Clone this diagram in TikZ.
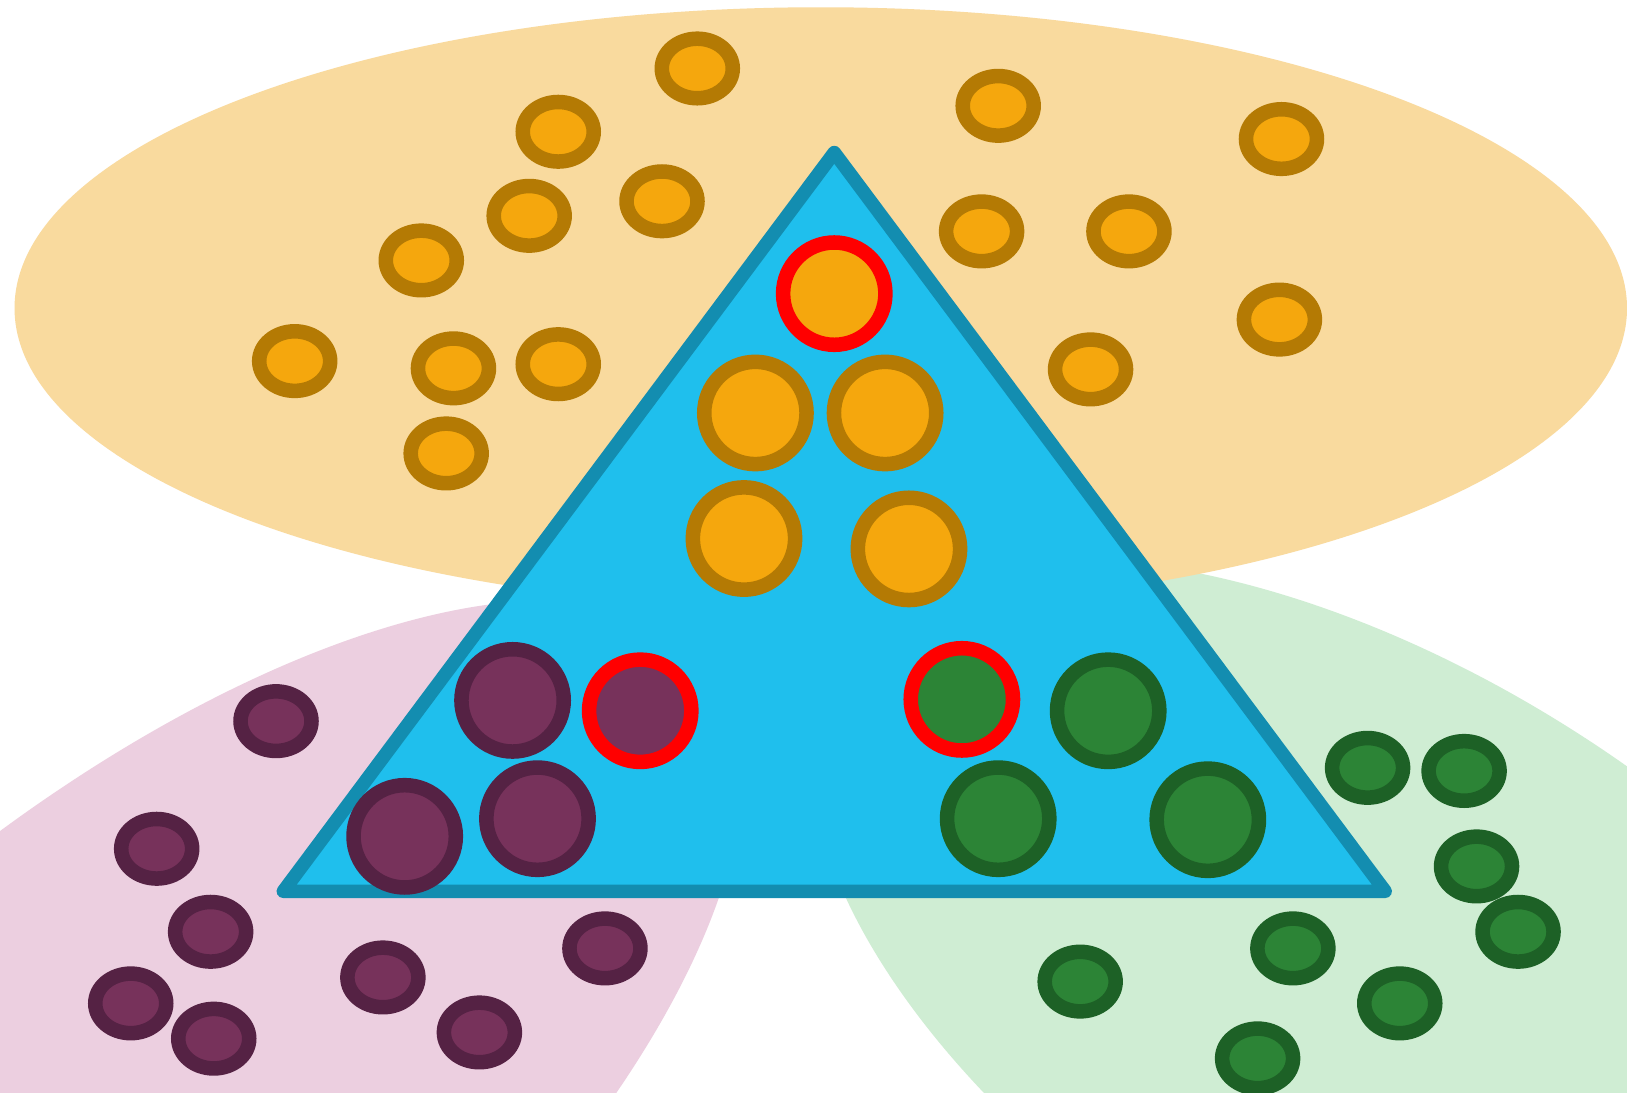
\documentclass[tikz,border=0pt]{standalone}
\usetikzlibrary{shapes.geometric}
\definecolor{obg}{HTML}{F9DA9E}
\definecolor{pbg}{HTML}{ECCFE0}
\definecolor{gbg}{HTML}{CFEDD3}
\definecolor{trifill}{HTML}{1FBFED}
\definecolor{tristroke}{HTML}{138DB0}
\definecolor{ofill}{HTML}{F5A70D}
\definecolor{ostroke}{HTML}{B47A04}
\definecolor{pfill}{HTML}{77325B}
\definecolor{pstroke}{HTML}{552244}
\definecolor{gfill}{HTML}{2C8436}
\definecolor{gstroke}{HTML}{1D6126}
\definecolor{hl}{HTML}{FF0000}
\tikzset{
  blob/.style={line width=14pt},
  oblob/.style={blob, draw=ostroke, fill=ofill},
  pblob/.style={blob, draw=pstroke, fill=pfill},
  gblob/.style={blob, draw=gstroke, fill=gfill},
  hlblob/.style={draw=hl},
  trianglebox/.style={draw=tristroke, fill=trifill, line width=13pt, line join=round}
}
\newcommand{\smallell}[2]{ellipse [x radius=34.2pt, y radius=28.7pt]}
\begin{document}
\begin{tikzpicture}[x=1pt,y=1pt]
\useasboundingbox (0,0) rectangle (1568,1053);
\clip (0,0) rectangle (1568,1053);
\fill[white] (0,0) rectangle (1568,1053);
% background regions
\fill[pbg] (115,-58) ellipse [x radius=738pt, y radius=315pt, rotate=40];
\fill[gbg] (1341,86) ellipse [x radius=630pt, y radius=316pt, rotate=-32];
\fill[obg] (791,756) ellipse [x radius=777pt, y radius=290pt];
% small orange
\foreach \p in {(672,987),(538,926),(638,859),(510,845),(406,802),(284,705),(437,698),(538,702),(430,616),(962,951),(1235,919),(946,830),(1088,830),(1233,745),(1051,697)}
  \draw[oblob] \p ellipse [x radius=34.2pt, y radius=28.7pt];
% small purple
\foreach \p in {(266,358),(151,235),(203,155),(126,86),(206,52),(369,111),(462,58),(583,139)}
  \draw[pblob] \p ellipse [x radius=34.2pt, y radius=28.7pt];
% small green
\foreach \p in {(1318,313),(1411,310),(1423,218),(1463,155),(1246,139),(1041,107),(1349,86),(1212,33)}
  \draw[gblob] \p ellipse [x radius=34.2pt, y radius=28.7pt];
% triangle
\coordinate (apex) at (804,906);
\coordinate (bl) at (273,194);
\coordinate (br) at (1335,194);
\draw[trianglebox] (apex) -- (bl) -- (br) -- cycle;
% circles in triangle
\draw[oblob,hlblob] (804,770) circle [radius=49.3pt];
\draw[oblob] (728,655) circle [radius=49.3pt];
\draw[oblob] (853,655) circle [radius=49.3pt];
\draw[oblob] (717,534) circle [radius=49.3pt];
\draw[oblob] (876,524) circle [radius=49.3pt];
\draw[pblob] (494,378) circle [radius=49.3pt];
\draw[pblob,hlblob] (617,368) circle [radius=49.3pt];
\draw[pblob] (390,247) circle [radius=49.3pt];
\draw[pblob] (518,264) circle [radius=49.3pt];
\draw[gblob,hlblob] (927,379) circle [radius=49.3pt];
\draw[gblob] (1068,368) circle [radius=49.3pt];
\draw[gblob] (962,264) circle [radius=49.3pt];
\draw[gblob] (1164,263) circle [radius=49.3pt];
\end{tikzpicture}
\end{document}
